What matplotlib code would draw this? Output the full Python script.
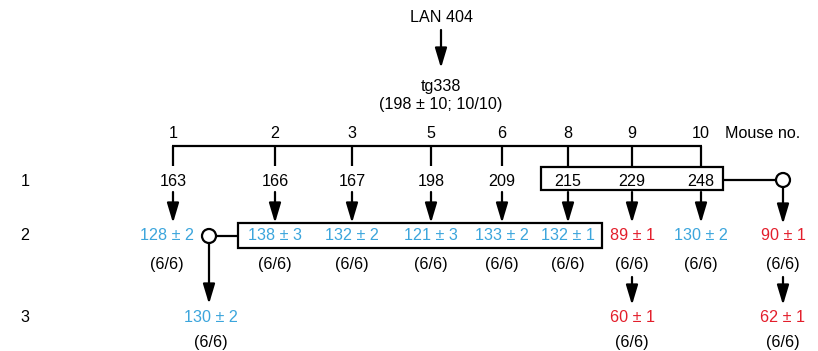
import matplotlib
matplotlib.use("Agg")
import matplotlib.pyplot as plt
from matplotlib.patches import Rectangle, Circle

plt.rcParams['font.family'] = ['Liberation Sans', 'DejaVu Sans']

# ---- data ----
source = "LAN 404"
strain = "tg338"
strain_stats = "(198 \u00b1 10; 10/10)"
mouse_no = ["1", "2", "3", "5", "6", "8", "9", "10"]
passage1 = [163, 166, 167, 198, 209, 215, 229, 248]
passage2 = ["128 \u00b1 2", "138 \u00b1 3", "132 \u00b1 2", "121 \u00b1 3", "133 \u00b1 2",
            "132 \u00b1 1", "89 \u00b1 1", "130 \u00b1 2"]
passage2_type = ["b", "b", "b", "b", "b", "b", "r", "b"]
pool_hi_p2 = "90 \u00b1 1"
pool_hi_p2_type = "r"
attack = "(6/6)"
pool_lo_p3 = "130 \u00b1 2"
pool_lo_p3_type = "b"
m9_p3 = "60 \u00b1 1"
m9_p3_type = "r"
pool_hi_p3 = "62 \u00b1 1"
pool_hi_p3_type = "r"
row_labels = ["1", "2", "3"]

# ---- layout / style ----
colors = {"b": "#3ba5dc", "r": "#e31e2b"}
W, H = 818, 351
col_x = [173, 275, 352, 431, 502, 568, 632, 701]
pool_hi_x = 783
pool_lo_x = 209
y_row = [181, 236, 317]
fs = 11.6
lw = 1.6

fig = plt.figure(figsize=(W / 100, H / 100), dpi=100)
ax = fig.add_axes([0, 0, 1, 1])
ax.set_xlim(0, W)
ax.set_ylim(H, 0)
ax.axis("off")

def txt(x, y, s, c="black", ha="center"):
    ax.text(x, y, s, color=c, fontsize=fs, ha=ha, va="center")

def arrow(x, y0, y1):
    ax.annotate("", xy=(x, y1), xytext=(x, y0),
                arrowprops=dict(arrowstyle="-|>,head_length=1.0,head_width=0.3",
                                color="black", lw=lw, shrinkA=0, shrinkB=0,
                                mutation_scale=12))

def line(xs, ys):
    ax.plot(xs, ys, color="black", lw=lw, solid_capstyle="butt")

# top
txt(441, 18, source)
arrow(441, 30, 68)
txt(441, 86, strain)
txt(441, 104, strain_stats)

# mouse numbers and tree
for x, m in zip(col_x, mouse_no):
    txt(x, 134, m)
    line([x, x], [146, 166])
line([col_x[0] - 0.8, col_x[-1] + 0.8], [146, 146])
txt(725, 134, "Mouse no.", ha="left")

# row labels
for y, r in zip(y_row, row_labels):
    txt(25, y, r)

# passage 1
for x, v in zip(col_x, passage1):
    txt(x, 181, str(v))

# box around high-incubation mice (8, 9, 10)
ax.add_patch(Rectangle((541, 167), 723 - 541, 23, fill=False, ec="black", lw=lw))
line([723, pool_hi_x - 7], [180, 180])
ax.add_patch(Circle((pool_hi_x, 180), 7, fill=True, fc="white", ec="black", lw=lw, zorder=3))
arrow(pool_hi_x, 187, 224)

# arrows passage1 -> passage2
for x in col_x:
    arrow(x, 192, 223)

# passage 2
for i, (x, v, t) in enumerate(zip(col_x, passage2, passage2_type)):
    xx = 167 if i == 0 else x
    txt(xx, 236, v, colors[t])
    txt(xx, 265, attack)
txt(pool_hi_x, 236, pool_hi_p2, colors[pool_hi_p2_type])
txt(pool_hi_x, 265, attack)

# box around low-incubation pool (2..8)
ax.add_patch(Rectangle((238, 223), 602 - 238, 25, fill=False, ec="black", lw=lw))
line([pool_lo_x + 7, 238], [236, 236])
ax.add_patch(Circle((pool_lo_x, 236), 7, fill=True, fc="white", ec="black", lw=lw, zorder=3))
arrow(pool_lo_x, 243, 304)

# passage 3
txt(211, 317, pool_lo_p3, colors[pool_lo_p3_type])
txt(211, 342, attack)
arrow(632, 277, 305)
txt(632, 317, m9_p3, colors[m9_p3_type])
txt(632, 342, attack)
arrow(pool_hi_x, 277, 305)
txt(pool_hi_x, 317, pool_hi_p3, colors[pool_hi_p3_type])
txt(pool_hi_x, 342, attack)

fig.savefig("out.png", dpi=100)
